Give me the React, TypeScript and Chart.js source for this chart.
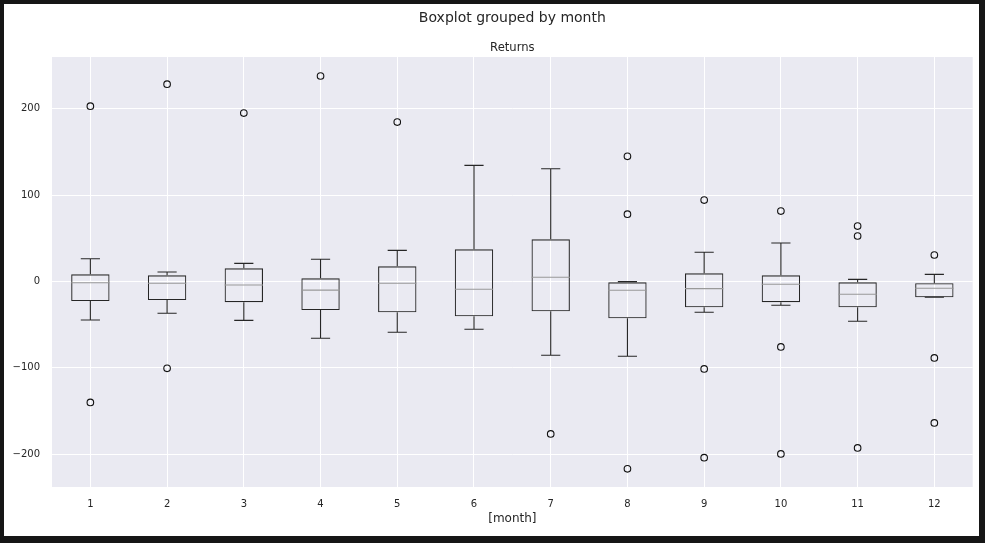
import React, { useEffect, useRef } from 'react';
import { Chart, registerables } from 'chart.js';

Chart.register(...registerables);

// Monthly returns: box statistics per month
const MONTHS = ['1', '2', '3', '4', '5', '6', '7', '8', '9', '10', '11', '12'];
const Q1 = [-22.6, -21.4, -24, -33, -35.6, -40.3, -34.5, -42.6, -29.9, -24, -29.9, -18.3];
const Q3 = [8.3, 7.2, 15.3, 3.7, 17.6, 37.3, 48.8, -1, 9.5, 7.2, -1, -2];
const MEDIAN = [-1.4, -2, -4, -10, -2, -9, 4.9, -10.2, -8.3, -3.2, -14.8, -7.9];
const WHISKER_LOW = [-44.6, -36.8, -45, -65.7, -58.8, -55.3, -85.4, -86.6, -35.7, -27.5, -46, -18.3];
const WHISKER_HIGH = [26.4, 11, 21, 25.7, 36, 134.5, 130.6, -0.2, 33.8, 44.5, 2.5, 8.3];
const OUTLIERS: number[][] = [
  [203, -140],
  [228.5, -100.5],
  [195],
  [238],
  [184.6],
  [],
  [-176.5],
  [145, 78, -217],
  [94.3, -101.3, -204],
  [81.6, -75.8, -199.7],
  [64.2, 52.7, -192.7],
  [30.7, -88.5, -163.8],
];
const Y_TICKS = [-200, -100, 0, 100, 200];

const FONT = "'DejaVu Sans', sans-serif";
const TEXT = '#262626';
const LINE = '#262626';

export default function App() {
  const canvasRef = useRef<HTMLCanvasElement>(null);

  useEffect(() => {
    document.body.style.margin = '0';
    const canvas = canvasRef.current;
    if (!canvas) return;

    const outlierPoints = OUTLIERS.flatMap((vals, i) => vals.map((v) => ({ x: MONTHS[i], y: v })));

    const plotBackground = {
      id: 'plotBackground',
      beforeDraw(chart: any) {
        const { ctx, chartArea: a } = chart;
        ctx.save();
        ctx.fillStyle = '#EAEAF2';
        ctx.fillRect(a.left, a.top, a.right - a.left, a.bottom - a.top);
        ctx.restore();
      },
    };

    // whiskers, caps and medians on top of the box outlines
    const boxParts = {
      id: 'boxParts',
      afterDatasetsDraw(chart: any) {
        const { ctx } = chart;
        const xs = chart.scales.x;
        const ys = chart.scales.y;
        const meta = chart.getDatasetMeta(0);
        const py = (v: number) => ys.getPixelForValue(v);
        ctx.save();
        ctx.lineWidth = 1.1;
        MONTHS.forEach((_, i) => {
          const bar = meta.data[i];
          const cx = xs.getPixelForValue(i);
          const half = bar.width / 2;
          const capHalf = half / 2;
          ctx.strokeStyle = LINE;
          ctx.beginPath();
          ctx.moveTo(cx, py(Q3[i]));
          ctx.lineTo(cx, py(WHISKER_HIGH[i]));
          ctx.moveTo(cx, py(Q1[i]));
          ctx.lineTo(cx, py(WHISKER_LOW[i]));
          ctx.moveTo(cx - capHalf, py(WHISKER_HIGH[i]));
          ctx.lineTo(cx + capHalf, py(WHISKER_HIGH[i]));
          ctx.moveTo(cx - capHalf, py(WHISKER_LOW[i]));
          ctx.lineTo(cx + capHalf, py(WHISKER_LOW[i]));
          ctx.stroke();
          ctx.strokeStyle = '#999999';
          ctx.beginPath();
          ctx.moveTo(cx - half, py(MEDIAN[i]));
          ctx.lineTo(cx + half, py(MEDIAN[i]));
          ctx.stroke();
        });
        ctx.restore();
      },
    };

    const chart = new Chart(canvas, {
      type: 'bar',
      data: {
        labels: MONTHS,
        datasets: [
          {
            type: 'bar',
            data: MONTHS.map((_, i) => [Q1[i], Q3[i]]) as any,
            backgroundColor: 'rgba(0,0,0,0)',
            borderColor: LINE,
            borderWidth: 1.1,
            borderSkipped: false,
            barPercentage: 0.5,
            categoryPercentage: 1,
          },
          {
            type: 'scatter',
            data: outlierPoints as any,
            pointStyle: 'circle',
            pointRadius: 3.3,
            backgroundColor: 'rgba(0,0,0,0)',
            borderColor: '#111111',
            borderWidth: 1.1,
          },
        ],
      },
      options: {
        responsive: false,
        animation: false,
        layout: { padding: { left: 0, right: 6.3, top: 0, bottom: 0 } },
        plugins: {
          legend: { display: false },
          tooltip: { enabled: false },
          title: {
            display: true,
            text: 'Boxplot grouped by month',
            fullSize: false,
            color: TEXT,
            font: { family: FONT, size: 14, weight: 'normal', lineHeight: 1.2 },
            padding: { top: 5.6, bottom: 0 },
          },
          subtitle: {
            display: true,
            text: 'Returns',
            fullSize: false,
            color: TEXT,
            font: { family: FONT, size: 11.6, weight: 'normal', lineHeight: 1.2 },
            padding: { top: 14.64, bottom: 2.04 },
          },
        },
        scales: {
          x: {
            type: 'category',
            offset: true,
            grid: { color: '#ffffff', lineWidth: 1, offset: false, drawTicks: false },
            border: { display: false },
            ticks: { color: TEXT, font: { family: FONT, size: 10 }, padding: 11, maxRotation: 0 },
            title: {
              display: true,
              text: '[month]',
              color: TEXT,
              font: { family: FONT, size: 12, lineHeight: 1.2 },
              padding: { top: 0, bottom: 10.4 },
            },
            afterFit(scale: any) {
              scale.height = 49;
            },
          },
          y: {
            type: 'linear',
            min: -238,
            max: 260,
            grid: { color: '#ffffff', lineWidth: 1, drawTicks: false },
            border: { display: false },
            ticks: {
              color: TEXT,
              font: { family: FONT, size: 10 },
              padding: 12,
              callback: (v: any) => String(v).replace('-', '\u2212'),
            },
            afterBuildTicks(scale: any) {
              scale.ticks = Y_TICKS.map((v) => ({ value: v }));
            },
            afterFit(scale: any) {
              scale.width = 48;
            },
          },
        },
      },
      plugins: [plotBackground, boxParts],
    });

    return () => chart.destroy();
  }, []);

  return (
    <div style={{ position: 'relative', width: 985, height: 543, background: '#161616' }}>
      <div style={{ position: 'absolute', left: 4, top: 4, width: 975, height: 532, background: '#ffffff' }}>
        <canvas ref={canvasRef} width={975} height={532} style={{ display: 'block' }} />
      </div>
    </div>
  );
}
